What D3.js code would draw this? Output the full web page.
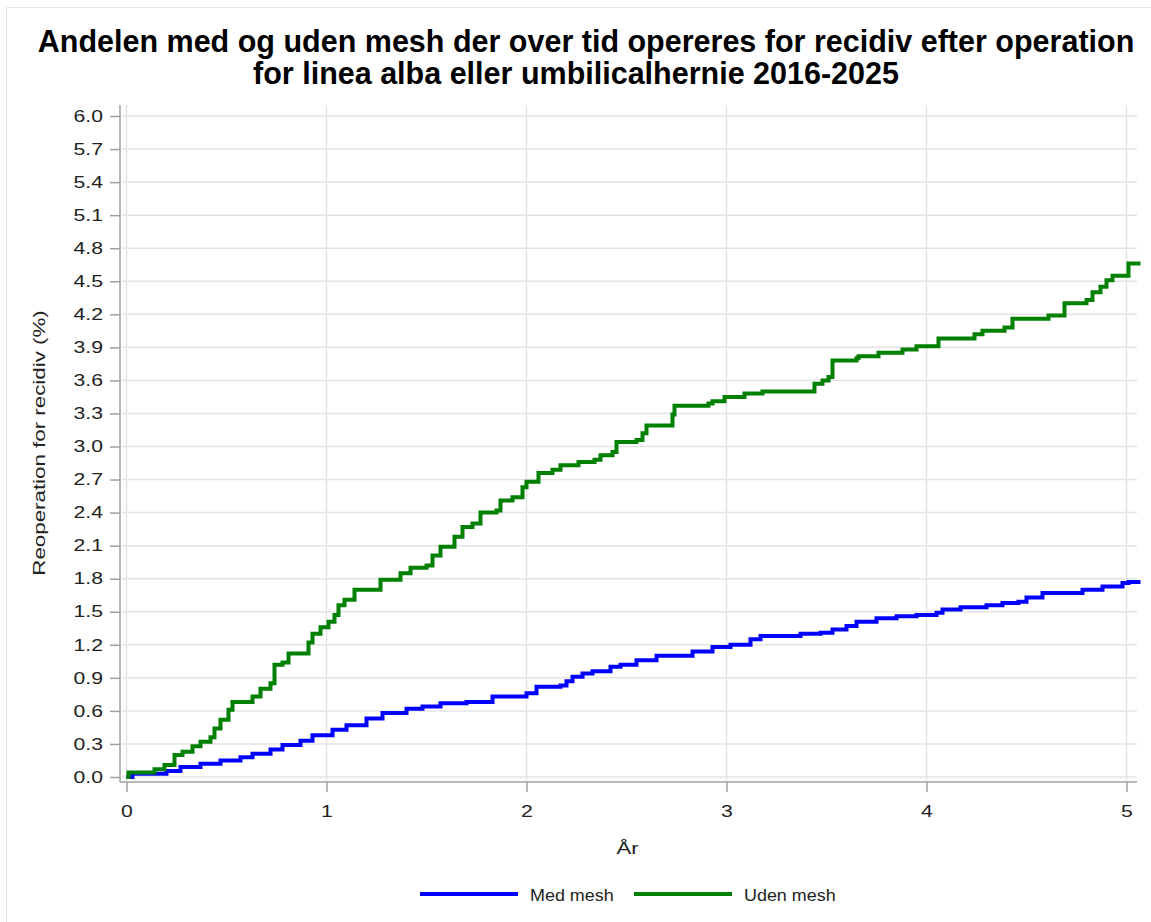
<!DOCTYPE html>
<html>
<head>
<meta charset="utf-8">
<script src="https://cdn.jsdelivr.net/npm/d3@7"></script>
<style>
  html, body { margin: 0; padding: 0; background: #fff; }
  svg { display: block; font-family: "Liberation Sans", Arial, sans-serif; }
</style>
</head>
<body>
<svg id="chart" width="1151" height="922"></svg>
<script>
// Cumulative reoperation share (%) by years since operation, step functions
const medMeshTime  = [0, 0.03, 0.20, 0.27, 0.37, 0.47, 0.57, 0.63, 0.72, 0.78, 0.87, 0.93, 1.03, 1.10, 1.20, 1.28, 1.40, 1.48, 1.57, 1.70, 1.83, 2.00, 2.05, 2.17, 2.20, 2.23, 2.28, 2.33, 2.42, 2.47, 2.55, 2.65, 2.83, 2.93, 3.02, 3.12, 3.17, 3.37, 3.47, 3.53, 3.60, 3.65, 3.75, 3.85, 3.95, 4.05, 4.08, 4.17, 4.30, 4.38, 4.46, 4.50, 4.58, 4.78, 4.88, 4.98, 5.01, 5.07];
const medMeshValue = [0, 0.03, 0.055, 0.09, 0.12, 0.15, 0.18, 0.21, 0.25, 0.29, 0.33, 0.38, 0.43, 0.47, 0.53, 0.58, 0.62, 0.64, 0.67, 0.68, 0.73, 0.76, 0.82, 0.83, 0.87, 0.91, 0.94, 0.96, 1.00, 1.02, 1.06, 1.10, 1.14, 1.18, 1.20, 1.25, 1.28, 1.30, 1.31, 1.34, 1.37, 1.41, 1.44, 1.46, 1.47, 1.49, 1.52, 1.54, 1.56, 1.58, 1.59, 1.63, 1.67, 1.70, 1.73, 1.76, 1.77, 1.77];

const udenMeshTime  = [0, 0.01, 0.14, 0.19, 0.24, 0.28, 0.33, 0.37, 0.42, 0.44, 0.47, 0.51, 0.53, 0.63, 0.67, 0.72, 0.74, 0.78, 0.81, 0.91, 0.93, 0.97, 1.01, 1.04, 1.06, 1.09, 1.14, 1.27, 1.37, 1.42, 1.50, 1.53, 1.57, 1.64, 1.68, 1.73, 1.77, 1.85, 1.87, 1.93, 1.98, 2.00, 2.06, 2.13, 2.17, 2.26, 2.34, 2.37, 2.43, 2.45, 2.55, 2.58, 2.60, 2.73, 2.74, 2.91, 2.93, 2.99, 3.09, 3.18, 3.44, 3.48, 3.51, 3.53, 3.65, 3.66, 3.76, 3.88, 3.95, 4.06, 4.24, 4.28, 4.39, 4.43, 4.61, 4.69, 4.80, 4.83, 4.87, 4.90, 4.93, 5.01, 5.07];
const udenMeshValue = [0, 0.04, 0.07, 0.11, 0.20, 0.23, 0.28, 0.32, 0.36, 0.44, 0.52, 0.61, 0.68, 0.73, 0.80, 0.85, 1.02, 1.04, 1.12, 1.22, 1.30, 1.36, 1.41, 1.47, 1.56, 1.61, 1.70, 1.79, 1.85, 1.90, 1.92, 2.01, 2.09, 2.18, 2.27, 2.30, 2.40, 2.42, 2.51, 2.54, 2.63, 2.68, 2.76, 2.79, 2.83, 2.86, 2.88, 2.92, 2.95, 3.04, 3.06, 3.12, 3.19, 3.29, 3.37, 3.39, 3.41, 3.45, 3.48, 3.50, 3.57, 3.60, 3.63, 3.78, 3.80, 3.82, 3.85, 3.88, 3.91, 3.98, 4.02, 4.05, 4.08, 4.16, 4.19, 4.30, 4.33, 4.40, 4.45, 4.51, 4.55, 4.66, 4.66];

const seriesNames  = ["Med mesh", "Uden mesh"];
const seriesColors = ["#0000ff", "#008000"];

const xTicks = [0, 1, 2, 3, 4, 5];
const yTicks = [0, 0.3, 0.6, 0.9, 1.2, 1.5, 1.8, 2.1, 2.4, 2.7, 3.0, 3.3, 3.6, 3.9, 4.2, 4.5, 4.8, 5.1, 5.4, 5.7, 6.0];

const titleLines = [
  "Andelen med og uden mesh der over tid opereres for recidiv efter operation",
  "for linea alba eller umbilicalhernie 2016-2025"
];
const xLabel = "År";
const yLabel = "Reoperation for recidiv (%)";

const svg = d3.select("#chart");
const labelFont = 16.3;   // axis / legend text size
const tickStretch = 1.3;  // horizontal widening of the axis text

// faint frame
svg.append("rect")
  .attr("x", 6.5).attr("y", 7.5).attr("width", 1160).attr("height", 930)
  .attr("fill", "none").attr("stroke", "#e6e6e6");

const plot = { left: 120, right: 1137, top: 105, bottom: 782 };
const x = d3.scaleLinear().domain([0, 5]).range([126.5, 1126.5]);
const y = d3.scaleLinear().domain([0, 6]).range([777, 116]);

// title
svg.append("g").selectAll("text").data(titleLines).join("text")
  .attr("x", (d, i) => i === 0 ? 586 : 576).attr("y", (d, i) => 52 + i * 32)
  .attr("text-anchor", "middle")
  .attr("font-size", 30.5).attr("font-weight", "bold").attr("fill", "#000")
  .text(d => d);

// gridlines
const grid = svg.append("g");
grid.selectAll("line.h").data(yTicks).join("line")
  .attr("class", "h")
  .attr("x1", plot.left + 2).attr("x2", plot.right)
  .attr("y1", d => y(d)).attr("y2", d => y(d))
  .attr("stroke", "#e4e4e4").attr("stroke-width", 1.5);
grid.selectAll("line.v").data(xTicks).join("line")
  .attr("class", "v")
  .attr("x1", d => x(d)).attr("x2", d => x(d))
  .attr("y1", plot.top).attr("y2", plot.bottom)
  .attr("stroke", "#e4e4e4").attr("stroke-width", 1.5);

// axes
const yAxis = d3.axisLeft(y).tickValues(yTicks).tickFormat(d3.format(".1f")).tickSize(10).tickPadding(7);
const xAxis = d3.axisBottom(x).tickValues(xTicks).tickFormat(d3.format("d")).tickSize(10).tickPadding(13);

const gy = svg.append("g").attr("transform", `translate(${plot.left},0)`).call(yAxis);
gy.select(".domain").attr("d", `M0,${plot.top}V${plot.bottom}`);
const gx = svg.append("g").attr("transform", `translate(0,${plot.bottom})`).call(xAxis);
gx.select(".domain").attr("d", `M${plot.left},0H${plot.right}`);

[gx, gy].forEach(g => {
  g.select(".domain").attr("stroke", "#a0a0a0").attr("stroke-width", 1.5);
  g.selectAll(".tick line").attr("stroke", "#a0a0a0").attr("stroke-width", 1.5);
  g.selectAll(".tick text").attr("font-size", labelFont).attr("fill", "#222")
    .attr("font-family", "'Liberation Sans', Arial, sans-serif");
});
gy.selectAll(".tick text")
  .attr("x", -17 / tickStretch)
  .attr("transform", `scale(${tickStretch},1)`);
gx.selectAll(".tick text")
  .attr("transform", `scale(${tickStretch},1)`);

// axis titles
svg.append("text")
  .attr("transform", `translate(45,${443}) rotate(-90) scale(1.37,1)`)
  .attr("text-anchor", "middle").attr("font-size", labelFont).attr("fill", "#222")
  .text(yLabel);
svg.append("text")
  .attr("transform", `translate(${(plot.left + plot.right) / 2 - 1},854) scale(1.35,1)`)
  .attr("text-anchor", "middle").attr("font-size", labelFont).attr("fill", "#222")
  .text(xLabel);

// curves
const series = [
  medMeshTime.map((t, i) => ({ t, v: medMeshValue[i] })),
  udenMeshTime.map((t, i) => ({ t, v: udenMeshValue[i] }))
];
const line = d3.line().x(d => x(d.t)).y(d => y(d.v)).curve(d3.curveStepAfter);
svg.append("g").selectAll("path").data(series).join("path")
  .attr("d", line)
  .attr("fill", "none")
  .attr("stroke", (d, i) => seriesColors[i])
  .attr("stroke-width", 4)
  .attr("stroke-linejoin", "miter");

// legend
const legendX = [420, 634];
const leg = svg.append("g").selectAll("g").data(seriesNames).join("g")
  .attr("transform", (d, i) => `translate(${legendX[i]},894)`);
leg.append("line").attr("x1", 0).attr("x2", 98).attr("y1", 0).attr("y2", 0)
  .attr("stroke", (d, i) => seriesColors[i]).attr("stroke-width", 4);
leg.append("text")
  .attr("transform", "translate(110,6.5) scale(1.1,1)")
  .attr("font-size", labelFont).attr("fill", "#222").text(d => d);
</script>
</body>
</html>
